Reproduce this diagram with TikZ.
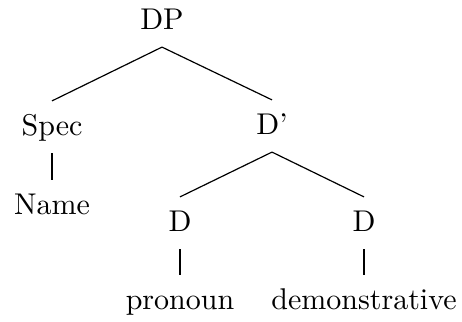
\documentclass[tikz,border=0pt]{standalone}
\usepackage{tikz}

\begin{document}
\begin{tikzpicture}[x=0.3333pt, y=-0.3333pt,
    every node/.style={anchor=base, text height=7.5pt, text depth=1.5pt, inner sep=4pt}]
    \useasboundingbox (0,0) rectangle (462,322);
    % Nodes
    \node (DP) at (162,30) {DP};
    \node (Spec) at (52,136) {Spec};
    \node (Dbar) at (272,135) {D'};
    \node (Name) at (52,215) {Name};
    \node (Dpro) at (180,232) {D};
    \node (Ddem) at (364,232) {D};
    \node (pro) at (180,310) {pronoun};
    \node (dem) at (364,310) {demonstrative};

    % Branches
    \draw (DP.south) -- (Spec.north);
    \draw (DP.south) -- (Dbar.north);
    \draw (Spec.south) -- (Name.north);
    \draw (Dbar.south) -- (Dpro.north);
    \draw (Dbar.south) -- (Ddem.north);
    \draw (Dpro.south) -- (pro.north);
    \draw (Ddem.south) -- (dem.north);
\end{tikzpicture}
\end{document}
